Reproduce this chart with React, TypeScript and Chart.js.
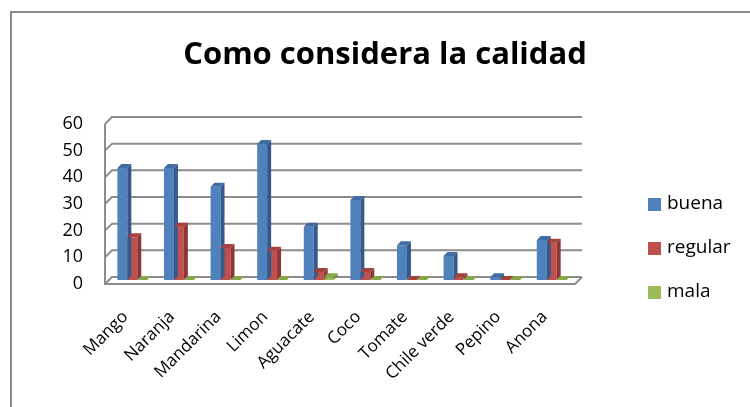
import { useEffect, useRef } from "react";
import { Chart, registerables } from "chart.js";

Chart.register(...registerables);

const categories = ["Mango", "Naranja", "Mandarina", "Limon", "Aguacate", "Coco", "Tomate", "Chile verde", "Pepino", "Anona"];
const buena = [42, 42, 35, 51, 20, 30, 13, 9, 1, 15];
const regular = [16, 20, 12, 11, 3, 3, 0, 1, 0, 14];
const mala = [0, 0, 0, 0, 1, 0, 0, 0, 0, 0];
const seriesNames = ["buena", "regular", "mala"];
const yTicks = [0, 10, 20, 30, 40, 50, 60];
const titleText = "Como considera la calidad";

const FONT = "'Open Sans'";
const frontColors = ["#4F81BD", "#C0504D", "#9BBB59"];
const sideColors = ["#34598A", "#8E3634", "#6F8A3B"];
const topColors = ["#3F6CA3", "#A6413E", "#86A64A"];
const gridColor = "#8C8C8C";
const DEPTH = 4;
const WALL = 7;
const BACK_SHIFT_L = 3;
const BACK_SHIFT_R = 7;

const decorPlugin = {
  id: "decor",
  beforeDraw(chart: any) {
    const ctx = chart.ctx;
    ctx.save();
    ctx.strokeStyle = "#8A8A8A";
    ctx.lineWidth = 2;
    ctx.beginPath();
    ctx.moveTo(11, 407);
    ctx.lineTo(11, 12);
    ctx.lineTo(750, 12);
    ctx.stroke();
    ctx.restore();
  },
  beforeDatasetsDraw(chart: any) {
    const ctx = chart.ctx;
    const area = chart.chartArea;
    const yScale = chart.scales.y;
    const bl = area.left + BACK_SHIFT_L;
    const br = area.right + BACK_SHIFT_R;
    ctx.save();
    ctx.strokeStyle = gridColor;
    ctx.lineWidth = 2;
    yTicks.forEach((v) => {
      const py = yScale.getPixelForValue(v);
      ctx.beginPath();
      ctx.moveTo(bl - WALL, py + WALL);
      ctx.lineTo(bl, py);
      ctx.lineTo(br, py);
      ctx.stroke();
    });
    const top = yScale.getPixelForValue(yTicks[yTicks.length - 1]);
    const bot = yScale.getPixelForValue(0);
    ctx.beginPath();
    ctx.moveTo(bl - WALL, top + WALL);
    ctx.lineTo(bl - WALL, bot + WALL);
    ctx.lineTo(br - WALL, bot + WALL);
    ctx.lineTo(br, bot);
    ctx.stroke();
    ctx.restore();
  },
  afterDraw(chart: any) {
    const ctx = chart.ctx;
    ctx.save();
    chart.data.datasets.forEach((ds: any, di: number) => {
      const meta = chart.getDatasetMeta(di);
      meta.data.forEach((el: any) => {
        const { x, y, base, width } = el.getProps(["x", "y", "base", "width"], true);
        const l = x - width / 2;
        const r = x + width / 2;
        ctx.fillStyle = sideColors[di];
        ctx.beginPath();
        ctx.moveTo(r, y);
        ctx.lineTo(r + DEPTH, y - DEPTH);
        ctx.lineTo(r + DEPTH, base - DEPTH);
        ctx.lineTo(r, base);
        ctx.closePath();
        ctx.fill();
        ctx.fillStyle = topColors[di];
        ctx.beginPath();
        ctx.moveTo(l, y);
        ctx.lineTo(l + DEPTH, y - DEPTH);
        ctx.lineTo(r + DEPTH, y - DEPTH);
        ctx.lineTo(r, y);
        ctx.closePath();
        ctx.fill();
      });
    });
    // title
    ctx.fillStyle = "#000";
    ctx.font = `bold 28px ${FONT}`;
    const w = ctx.measureText(titleText).width;
    const size = Math.round((28 * 400) / w);
    ctx.font = `bold ${size}px ${FONT}`;
    ctx.textAlign = "center";
    ctx.textBaseline = "alphabetic";
    ctx.fillText(titleText, 385, 64);
    // legend
    ctx.font = `19px ${FONT}`;
    ctx.textAlign = "left";
    ctx.textBaseline = "middle";
    seriesNames.forEach((name, i) => {
      const cy = 204 + i * 44;
      ctx.fillStyle = frontColors[i];
      ctx.fillRect(648, cy - 6, 13, 13);
      ctx.fillStyle = "#000";
      ctx.fillText(name, 667, cy);
    });
    ctx.restore();
  },
};

export default function App() {
  const ref = useRef<HTMLCanvasElement>(null);
  useEffect(() => {
    if (!ref.current) return;
    const chart = new Chart(ref.current, {
      type: "bar",
      data: {
        labels: categories,
        datasets: [
          { label: seriesNames[0], data: buena, backgroundColor: frontColors[0], yAxisID: "yb" },
          { label: seriesNames[1], data: regular, backgroundColor: frontColors[1], yAxisID: "yb" },
          { label: seriesNames[2], data: mala, backgroundColor: frontColors[2], yAxisID: "yb" },
        ],
      },
      options: {
        animation: false,
        responsive: false,
        devicePixelRatio: 1,
        layout: { padding: { left: 59, right: 175, top: 120, bottom: 0 } },
        datasets: { bar: { categoryPercentage: 0.64, barPercentage: 1 } },
        plugins: { legend: { display: false }, title: { display: false }, tooltip: { enabled: false } },
        scales: {
          x: {
            grid: { display: false },
            border: { display: false },
            afterFit: (s: any) => { s.height = 127; },
            ticks: {
              color: "#000",
              font: { family: "Open Sans", size: 17 },
              minRotation: 45,
              maxRotation: 45,
              padding: 19,
              labelOffset: -7,
              autoSkip: false,
            },
          },
          y: {
            min: -1.125,
            max: 58.875,
            afterFit: (s: any) => { s.width = 50; },
            afterBuildTicks: (s: any) => { s.ticks = yTicks.map((v) => ({ value: v })); },
            grid: { display: false, drawTicks: false },
            border: { display: false },
            ticks: {
              color: "#000",
              font: { family: "Open Sans", size: 18 },
              padding: 26,
              labelOffset: 7,
            },
          },
          yb: {
            display: false,
            min: 0,
            max: 60,
          },
        },
      },
      plugins: [decorPlugin],
    });
    return () => chart.destroy();
  }, []);
  return (
    <div style={{ position: "fixed", left: 0, top: 0, width: 750, height: 407, background: "#fff" }}>
      <canvas ref={ref} width={750} height={407} />
    </div>
  );
}
